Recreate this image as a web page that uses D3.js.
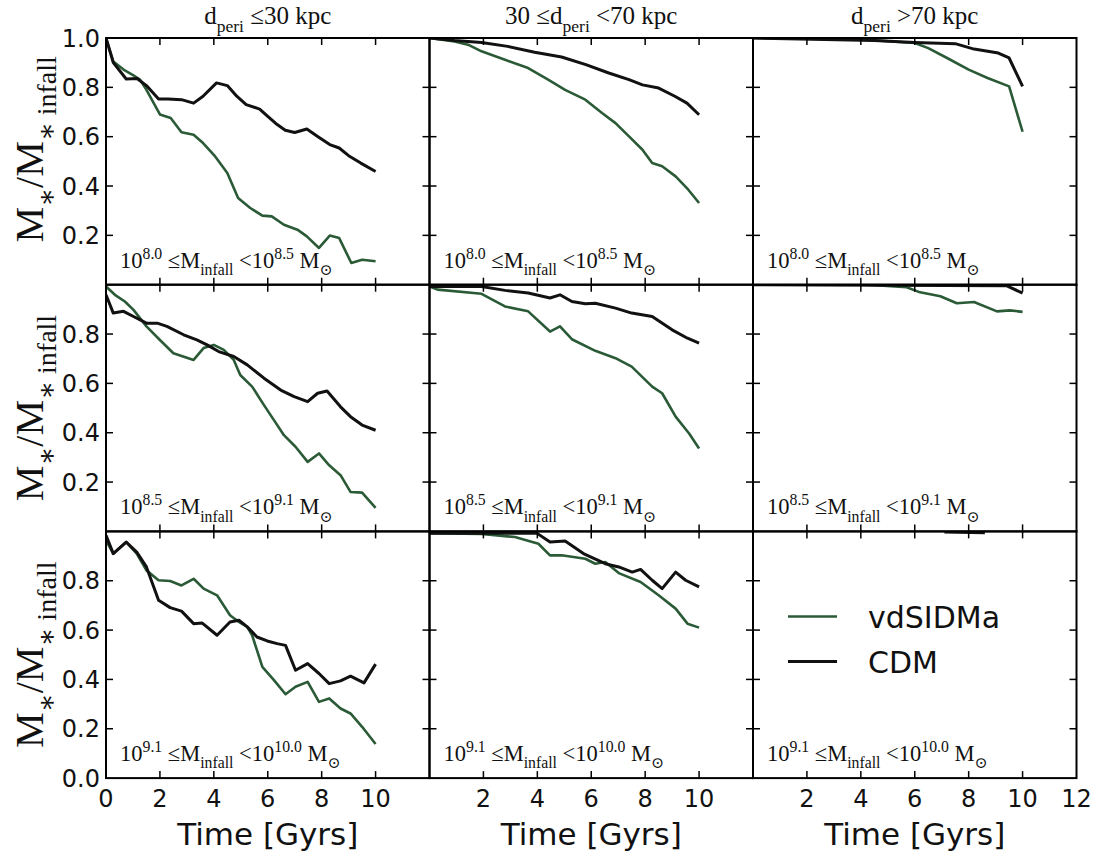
<!DOCTYPE html>
<html>
<head>
<meta charset="utf-8">
<script src="https://cdn.jsdelivr.net/npm/d3@7/dist/d3.min.js"></script>
<style>
  body { margin: 0; background: #fff; }
  text { white-space: pre; }
</style>
</head>
<body>
<svg id="chart" width="1101" height="858"></svg>
<script>
// ---- data: [time in Gyr, M*/M*infall] ----
var sidm00 = [[0,1.0],[0.27,0.905],[0.65,0.872],[1.0,0.85],[1.27,0.83],[1.5,0.79],[2.0,0.69],[2.4,0.676],[2.8,0.618],[3.25,0.608],[3.6,0.574],[4.05,0.52],[4.5,0.453],[4.9,0.351],[5.35,0.311],[5.8,0.28],[6.15,0.277],[6.6,0.243],[7.1,0.223],[7.45,0.196],[7.9,0.149],[8.3,0.199],[8.65,0.189],[9.1,0.088],[9.5,0.101],[10,0.095]];
var cdm00  = [[0,1.0],[0.27,0.90],[0.75,0.834],[1.15,0.836],[1.5,0.807],[1.95,0.753],[2.3,0.753],[2.8,0.75],[3.25,0.736],[3.6,0.764],[4.1,0.818],[4.5,0.807],[4.85,0.764],[5.2,0.73],[5.7,0.712],[6.0,0.682],[6.35,0.649],[6.65,0.626],[7.0,0.617],[7.45,0.631],[7.85,0.601],[8.3,0.568],[8.65,0.554],[9.0,0.523],[9.45,0.493],[10,0.459]];

var sidm01 = [[0,1.0],[0.93,0.986],[1.43,0.973],[1.93,0.946],[2.8,0.912],[3.66,0.878],[4.4,0.831],[5.03,0.79],[5.78,0.75],[6.4,0.696],[6.9,0.655],[7.4,0.601],[7.9,0.547],[8.26,0.493],[8.63,0.48],[9.13,0.439],[9.6,0.385],[10,0.331]];
var cdm01  = [[0,1.0],[0.93,0.99],[1.93,0.982],[2.9,0.966],[3.9,0.942],[4.9,0.923],[5.8,0.892],[6.65,0.858],[7.4,0.831],[7.9,0.81],[8.5,0.797],[9.1,0.764],[9.55,0.736],[10,0.689]];

var sidm02 = [[0,1.0],[3.9,0.995],[6.0,0.98],[6.5,0.959],[7.2,0.919],[8.0,0.872],[8.7,0.838],[9.5,0.804],[10,0.62]];
var cdm02  = [[0,1.0],[4.5,0.99],[6.0,0.982],[7.5,0.977],[8.2,0.955],[9.1,0.939],[9.5,0.919],[10,0.804]];

var sidm10 = [[0,0.993],[0.33,0.959],[0.7,0.932],[1.02,0.898],[1.5,0.831],[2.0,0.776],[2.5,0.722],[3.25,0.695],[3.62,0.743],[4.0,0.756],[4.37,0.736],[4.74,0.695],[4.98,0.634],[5.42,0.587],[5.86,0.512],[6.23,0.451],[6.6,0.39],[7.03,0.343],[7.48,0.282],[7.9,0.316],[8.28,0.268],[8.7,0.228],[9.07,0.16],[9.5,0.157],[10,0.095]];
var cdm10  = [[0,0.959],[0.27,0.885],[0.65,0.892],[1.02,0.871],[1.5,0.844],[1.9,0.844],[2.26,0.831],[2.88,0.797],[3.37,0.776],[3.75,0.756],[4.18,0.729],[4.74,0.709],[5.24,0.675],[5.86,0.621],[6.48,0.573],[6.98,0.546],[7.48,0.526],[7.85,0.56],[8.2,0.569],[8.7,0.505],[9.07,0.465],[9.5,0.431],[10,0.41]];

var sidm11 = [[0,0.993],[0.3,0.98],[1.93,0.963],[2.8,0.912],[3.66,0.892],[4.47,0.81],[4.84,0.831],[5.28,0.779],[6.15,0.732],[6.9,0.702],[7.5,0.668],[8.26,0.587],[8.63,0.56],[9.13,0.465],[9.63,0.397],[10,0.336]];
var cdm11  = [[0,0.993],[1.93,0.993],[2.8,0.977],[3.66,0.966],[4.47,0.946],[4.84,0.959],[5.28,0.932],[5.78,0.923],[6.15,0.925],[6.9,0.905],[7.5,0.885],[8.26,0.871],[9.0,0.817],[9.57,0.783],[10,0.763]];

var sidm12 = [[0,1.0],[4.25,1.0],[5.7,0.99],[6.2,0.969],[6.95,0.953],[7.56,0.925],[8.2,0.93],[9.05,0.892],[9.53,0.896],[10,0.89]];
var cdm12  = [[0,1.0],[9.4,0.996],[10,0.966]];

var sidm20 = [[0,0.964],[0.27,0.91],[0.75,0.957],[1.14,0.91],[1.5,0.842],[1.95,0.802],[2.38,0.799],[2.8,0.781],[3.25,0.808],[3.62,0.768],[4.12,0.741],[4.6,0.66],[4.93,0.633],[5.24,0.613],[5.42,0.579],[5.8,0.451],[6.23,0.397],[6.66,0.34],[7.03,0.37],[7.48,0.39],[7.9,0.309],[8.28,0.323],[8.7,0.282],[9.07,0.262],[9.5,0.208],[10,0.138]];
var cdm20  = [[0,0.984],[0.27,0.91],[0.75,0.957],[1.14,0.916],[1.5,0.856],[1.95,0.721],[2.38,0.691],[2.8,0.677],[3.25,0.626],[3.56,0.629],[4.12,0.579],[4.6,0.633],[4.93,0.64],[5.24,0.613],[5.6,0.572],[5.98,0.556],[6.35,0.545],[6.66,0.538],[7.03,0.437],[7.48,0.464],[7.9,0.424],[8.28,0.383],[8.7,0.394],[9.07,0.413],[9.57,0.386],[10,0.462]];

var sidm21 = [[0,0.993],[1.93,0.99],[3.17,0.977],[4.04,0.95],[4.47,0.903],[4.9,0.903],[5.78,0.889],[6.15,0.869],[6.52,0.876],[7.02,0.831],[7.83,0.795],[8.5,0.741],[9.13,0.687],[9.57,0.626],[10,0.61]];
var cdm21  = [[0,0.993],[3.98,0.993],[4.47,0.957],[5.03,0.961],[5.71,0.91],[6.52,0.869],[7.02,0.856],[7.52,0.835],[7.83,0.846],[8.26,0.802],[8.63,0.768],[9.13,0.835],[9.5,0.802],[10,0.775]];

var sidm22 = [];
var cdm22  = [[7.1,0.998],[8.6,0.995]];

var sidmRuns = [[sidm00, sidm01, sidm02], [sidm10, sidm11, sidm12], [sidm20, sidm21, sidm22]];
var cdmRuns  = [[cdm00, cdm01, cdm02], [cdm10, cdm11, cdm12], [cdm20, cdm21, cdm22]];

var massLow  = ["8.0", "8.5", "9.1"];
var massHigh = ["8.5", "9.1", "10.0"];
var xTicks = [0, 2, 4, 6, 8, 10, 12];
var yTicks = [0, 0.2, 0.4, 0.6, 0.8, 1.0];
var seriesNames = ["vdSIDMa", "CDM"];

// ---- layout ----
var left = 106, top0 = 38, pw = 323.5, ph = 246.7;
var green = "#2b5a37", black = "#111";

var svg = d3.select("#chart");

// mixed text with sub/superscripts: parts = [[text, "sub"|"sup"|""], ...]
function rich(sel, parts, size) {
    var shift = 0;
    parts.forEach(function(p) {
        var target = p[1] === "sub" ? size * 0.32 : p[1] === "sup" ? -size * 0.4 : 0;
        sel.append("tspan")
            .attr("dy", target - shift)
            .attr("font-size", p[1] ? size * 0.7 : size)
            .text(p[0]);
        shift = target;
    });
}

var titles = [
    [["d", ""], ["peri", "sub"], [" \u226430 kpc", ""]],
    [["30 \u2264d", ""], ["peri", "sub"], [" <70 kpc", ""]],
    [["d", ""], ["peri", "sub"], [" >70 kpc", ""]]
];

var serif = "'Liberation Serif', 'DejaVu Serif', serif";
var sans = "'DejaVu Sans', sans-serif";

var line = d3.line();

for (var r = 0; r < 3; r++) {
    for (var c = 0; c < 3; c++) {
        var x0 = left + c * pw, y0 = top0 + r * ph;
        var sx = d3.scaleLinear().domain([0, 12]).range([x0, x0 + pw]);
        var sy = d3.scaleLinear().domain([0, 1]).range([y0 + ph, y0]);
        var g = svg.append("g");

        var clipId = "clip" + r + c;
        svg.append("clipPath").attr("id", clipId)
            .append("rect").attr("x", x0).attr("y", y0).attr("width", pw).attr("height", ph);

        line.x(d => sx(d[0])).y(d => sy(d[1]));

        var lg = g.append("g").attr("clip-path", "url(#" + clipId + ")");
        if (sidmRuns[r][c].length)
            lg.append("path").attr("d", line(sidmRuns[r][c]))
                .attr("fill", "none").attr("stroke", green).attr("stroke-width", 2.6)
                .attr("stroke-linejoin", "round");
        if (cdmRuns[r][c].length)
            lg.append("path").attr("d", line(cdmRuns[r][c]))
                .attr("fill", "none").attr("stroke", black).attr("stroke-width", 3)
                .attr("stroke-linejoin", "round");

        // inward ticks on all four sides
        var tl = 7;
        g.selectAll(null).data(xTicks.slice(1, -1)).enter().append("line")
            .attr("x1", d => sx(d)).attr("x2", d => sx(d))
            .attr("y1", y0 + ph).attr("y2", y0 + ph - tl)
            .attr("stroke", "#000").attr("stroke-width", 1.5);
        g.selectAll(null).data(xTicks.slice(1, -1)).enter().append("line")
            .attr("x1", d => sx(d)).attr("x2", d => sx(d))
            .attr("y1", y0).attr("y2", y0 + tl)
            .attr("stroke", "#000").attr("stroke-width", 1.5);
        g.selectAll(null).data(yTicks.slice(1, -1)).enter().append("line")
            .attr("x1", x0).attr("x2", x0 + tl)
            .attr("y1", d => sy(d)).attr("y2", d => sy(d))
            .attr("stroke", "#000").attr("stroke-width", 1.5);
        g.selectAll(null).data(yTicks.slice(1, -1)).enter().append("line")
            .attr("x1", x0 + pw).attr("x2", x0 + pw - tl)
            .attr("y1", d => sy(d)).attr("y2", d => sy(d))
            .attr("stroke", "#000").attr("stroke-width", 1.5);

        g.append("rect").attr("x", x0).attr("y", y0).attr("width", pw).attr("height", ph)
            .attr("fill", "none").attr("stroke", "#000").attr("stroke-width", 2);

        // mass-bin annotation
        var ann = g.append("text").attr("x", x0 + 14).attr("y", y0 + ph - 17)
            .attr("font-family", serif).attr("fill", "#111");
        rich(ann, [["10", ""], [massLow[r], "sup"], [" \u2264M", ""], ["infall", "sub"],
                   [" <10", ""], [massHigh[r], "sup"], [" M", ""], ["\u2299", "sub"]], 22.5);

        // y tick labels
        if (c === 0) {
            var yl = yTicks.filter(v => (v > 0 || r === 2) && (v < 1 || r === 0));
            g.selectAll(null).data(yl).enter().append("text")
                .attr("x", x0 - 6).attr("y", d => sy(d)).attr("dy", "0.36em")
                .attr("text-anchor", "end").attr("font-family", sans).attr("font-size", 24)
                .attr("fill", "#111").text(d => d.toFixed(1));
            var ylab = svg.append("text")
                .attr("transform", "translate(43," + (r === 0 ? y0 + ph / 2 - 12 : y0 + ph / 2) + ") rotate(-90)")
                .attr("text-anchor", "middle").attr("font-family", serif).attr("fill", "#111");
            rich(ylab, [["M", ""], ["\u2217", "sub"], ["/M", ""], ["\u2217 infall", "sub"]], 40);
        }
        // x tick labels and axis title
        if (r === 2) {
            var xl = xTicks.filter(v => (v > 0 || c === 0) && (v < 12 || c === 2));
            g.selectAll(null).data(xl).enter().append("text")
                .attr("x", d => sx(d)).attr("y", y0 + ph + 29)
                .attr("text-anchor", "middle").attr("font-family", sans).attr("font-size", 24)
                .attr("fill", "#111").text(d => d);
            svg.append("text").attr("x", x0 + pw / 2).attr("y", 845)
                .attr("text-anchor", "middle").attr("font-family", sans).attr("font-size", 31)
                .attr("fill", "#111").text("Time [Gyrs]");
        }
        if (r === 0) {
            var t = svg.append("text").attr("x", x0 + pw / 2).attr("y", 24)
                .attr("text-anchor", "middle").attr("font-family", serif).attr("fill", "#111");
            rich(t, titles[c], 25);
        }
    }
}

// legend in the lower-right panel
var legY = d3.scaleBand().domain(seriesNames).range([594, 684]);
var legColor = d3.scaleOrdinal().domain(seriesNames).range([green, black]);
var leg = svg.append("g");
leg.selectAll(null).data(seriesNames).enter().append("line")
    .attr("x1", 788).attr("x2", 837)
    .attr("y1", d => legY(d) + legY.bandwidth() / 2).attr("y2", d => legY(d) + legY.bandwidth() / 2)
    .attr("stroke", d => legColor(d)).attr("stroke-width", d => d === "CDM" ? 3 : 2.6);
leg.selectAll(null).data(seriesNames).enter().append("text")
    .attr("x", 868).attr("y", d => legY(d) + legY.bandwidth() / 2).attr("dy", "0.37em")
    .attr("font-family", sans).attr("font-size", 30).attr("fill", "#111").text(d => d);
</script>
</body>
</html>
